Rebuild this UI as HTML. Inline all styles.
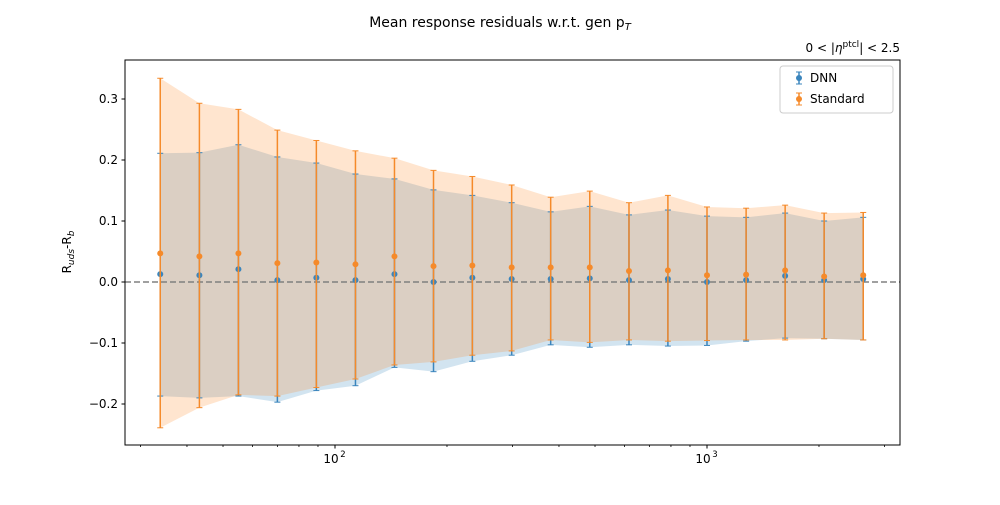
<!DOCTYPE html>
<html><head><meta charset="utf-8"><style>
body{margin:0;background:#fff;}
svg text{font-family:"DejaVu Sans","Liberation Sans",sans-serif;}
</style></head><body>
<svg id="chart" width="1000" height="500" xmlns="http://www.w3.org/2000/svg">
<rect width="1000" height="500" fill="#fff"/>
<text x="500" y="27" font-size="14" text-anchor="middle">Mean response residuals w.r.t. gen p<tspan font-size="10" dy="3" font-style="italic">T</tspan></text>
<text x="900" y="52" font-size="12" text-anchor="end">0 &lt; |<tspan font-style="italic">η</tspan><tspan font-size="9" dy="-5">ptcl</tspan><tspan dy="5">| &lt; 2.5</tspan></text>
<g id="plot"></g>
<text transform="translate(71,252) rotate(-90)" font-size="12" text-anchor="middle">R<tspan font-size="9" dy="3" font-style="italic">uds</tspan><tspan dy="-3">-R</tspan><tspan font-size="9" dy="3" font-style="italic">b</tspan></text>
</svg>
<script>
const ptValues=[33.9,43.2,55,70,89.1,113.5,144.5,184,234,298.5,380,484,617,785,1000,1274,1622,2065,2630];
const dnnMean=[0.013,0.011,0.021,0.003,0.007,0.003,0.013,0.0,0.007,0.005,0.005,0.006,0.003,0.005,0.0,0.003,0.010,0.003,0.005];
const dnnUpper=[0.211,0.212,0.225,0.205,0.195,0.177,0.169,0.151,0.142,0.130,0.115,0.124,0.110,0.118,0.108,0.106,0.113,0.100,0.106];
const dnnLower=[-0.187,-0.190,-0.187,-0.197,-0.178,-0.170,-0.140,-0.147,-0.130,-0.120,-0.103,-0.107,-0.103,-0.105,-0.104,-0.097,-0.092,-0.093,-0.095];
const stdMean=[0.047,0.042,0.047,0.031,0.032,0.029,0.042,0.026,0.027,0.024,0.024,0.024,0.018,0.019,0.011,0.012,0.019,0.009,0.011];
const stdUpper=[0.334,0.293,0.283,0.249,0.232,0.215,0.203,0.183,0.173,0.159,0.139,0.149,0.130,0.142,0.123,0.121,0.126,0.113,0.114];
const stdLower=[-0.239,-0.206,-0.185,-0.187,-0.173,-0.159,-0.136,-0.131,-0.120,-0.113,-0.095,-0.099,-0.095,-0.097,-0.096,-0.095,-0.095,-0.093,-0.095];
const yTicks=[-0.2,-0.1,0.0,0.1,0.2,0.3];
const yTickLabels=["−0.2","−0.1","0.0","0.1","0.2","0.3"];
const xMajor=[100,1000];
const xMajorLabels=["2","3"];

const L=125,R=900,T=60,B=445;
const X=v=>335+372*Math.log10(v/100);
const Y=v=>282-610*v;
const NS="http://www.w3.org/2000/svg";
const g=document.getElementById('plot');
function mk(tag,attrs,parent){const e=document.createElementNS(NS,tag);for(const k in attrs)e.setAttribute(k,attrs[k]);(parent||g).appendChild(e);return e;}

function band(up,lo,color,name){
  let d='M'+ptValues.map((p,i)=>X(p)+','+Y(up[i])).join('L');
  d+='L'+ptValues.map((p,i)=>X(p)+','+Y(lo[i])).reverse().join('L')+'Z';
  const e=mk('path',{d:d,fill:color,'fill-opacity':0.2});
  
  
}
band(dnnUpper,dnnLower,'#1f77b4','dnn-band');
band(stdUpper,stdLower,'#ff7f0e','standard-band');

const zl=mk('line',{x1:L,x2:R,y1:Y(0),y2:Y(0),stroke:'#808080','stroke-width':1.5,'stroke-dasharray':'6,3'});



function series(mean,up,lo,color,name){
  ptValues.forEach((p,i)=>{
    const x=X(p);
    const eb=mk('g',{});
    
    
    mk('line',{x1:x,x2:x,y1:Y(up[i]),y2:Y(lo[i]),stroke:color,'stroke-width':1.5},eb);
    mk('line',{x1:x-3,x2:x+3,y1:Y(up[i]),y2:Y(up[i]),stroke:color,'stroke-width':1},eb);
    mk('line',{x1:x-3,x2:x+3,y1:Y(lo[i]),y2:Y(lo[i]),stroke:color,'stroke-width':1},eb);
    const c=mk('circle',{cx:x,cy:Y(mean[i]),r:3,fill:color});
    
    
  });
}
series(dnnMean,dnnUpper,dnnLower,'#3a85bd','dnn');
series(stdMean,stdUpper,stdLower,'#f58a2a','standard');

const fr=mk('rect',{x:L,y:T,width:R-L,height:B-T,fill:'none',stroke:'#000','stroke-width':1});



yTicks.forEach((v,i)=>{
  const y=Y(v);
  mk('line',{x1:L-3.5,x2:L,y1:y,y2:y,stroke:'#000'});
  const t=mk('text',{x:L-7,y:y+4,'font-size':12,'text-anchor':'end'});
  t.textContent=yTickLabels[i];
  
  
});
for(let dec=10;dec<=1000;dec*=10){
  for(let m=2;m<=9;m++){
    const v=dec*m;const x=X(v);
    if(x<L||x>R)continue;
    mk('line',{x1:x,x2:x,y1:B,y2:B+2,stroke:'#000','stroke-width':0.8});
  }
}
xMajor.forEach((v,i)=>{
  const x=X(v);
  mk('line',{x1:x,x2:x,y1:B,y2:B+3.5,stroke:'#000'});
  const t=mk('text',{x:x-4,y:B+18,'font-size':12,'text-anchor':'middle'});
  t.textContent='10';
  
  
  const s=mk('text',{x:x+8,y:B+12,'font-size':8.5,'text-anchor':'middle'});
  s.textContent=xMajorLabels[i];
});

const lg=mk('g',{});


mk('rect',{x:780,y:66,width:113,height:47,rx:3,fill:'#fff','fill-opacity':0.8,stroke:'#ccc'},lg);
[['DNN','#3a85bd',78],['Standard','#f58a2a',99]].forEach(([n,c,y])=>{
  const e=mk('g',{},lg);
  
  
  mk('line',{x1:799,x2:799,y1:y-6,y2:y+6,stroke:c,'stroke-width':1.5},e);
  mk('line',{x1:796,x2:802,y1:y-6,y2:y-6,stroke:c},e);
  mk('line',{x1:796,x2:802,y1:y+6,y2:y+6,stroke:c},e);
  mk('circle',{cx:799,cy:y,r:3,fill:c},e);
  const t=mk('text',{x:810,y:y+4,'font-size':12},e);
  t.textContent=n;
});
</script>
</body></html>
